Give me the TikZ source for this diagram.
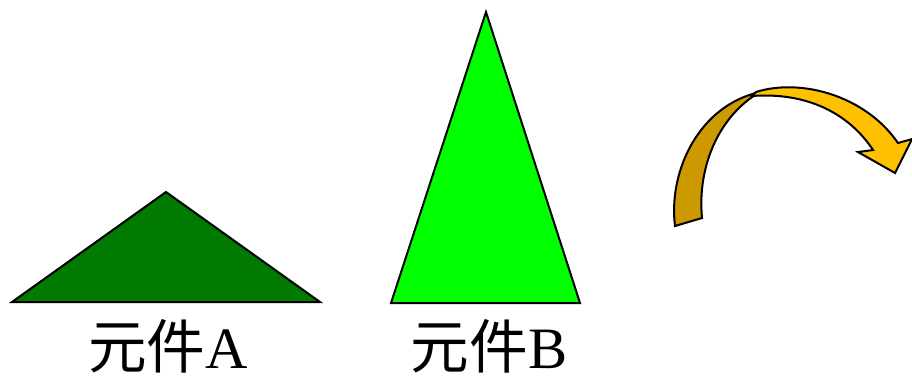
\documentclass[tikz,border=0pt]{standalone}
\usepackage{fontspec}
\setmainfont{Liberation Serif}
\newfontfamily\cjk{Noto Sans CJK SC}
\definecolor{darkleaf}{RGB}{0,122,0}
\definecolor{brightleaf}{RGB}{0,255,0}
\definecolor{arrowdark}{RGB}{204,153,0}
\definecolor{arrowlight}{RGB}{255,192,0}
\tikzset{
  part/.style={draw=black,line width=1.5pt,line join=miter},
  partlabel/.style={font=\fontsize{44}{48}\selectfont,anchor=base,inner sep=0pt}
}
\begin{document}
\begin{tikzpicture}[x=0.75pt,y=-0.75pt]
  % Coordinates are in pixels of the 912x380 picture, y pointing down.
  \useasboundingbox (0,0) rectangle (912,380);
  \fill[white] (0,0) rectangle (912,380);
  \filldraw[part,fill=darkleaf] (12,302) -- (166,192) -- (320,302) -- cycle;
  \filldraw[part,fill=brightleaf] (391,303) -- (486,12) -- (580,303) -- cycle;
  \node[partlabel] (labelA) at (168,368) {{\cjk 元件}A};
  \node[partlabel] (labelB) at (489,368) {{\cjk 元件}B};
  % twisted curved arrow
  \filldraw[part,fill=arrowdark] (675,226) .. controls (668,170) and (700,105) .. (760,92)
    .. controls (720,115) and (697,165) .. (702,218) -- cycle;
  \filldraw[part,fill=arrowlight] (756,92) .. controls (800,78) and (865,95) .. (898,143)
    -- (912,139) -- (895,173) -- (858,152) -- (873,150)
    .. controls (848,112) and (805,92) .. (752,96) -- cycle;
\end{tikzpicture}
\end{document}
